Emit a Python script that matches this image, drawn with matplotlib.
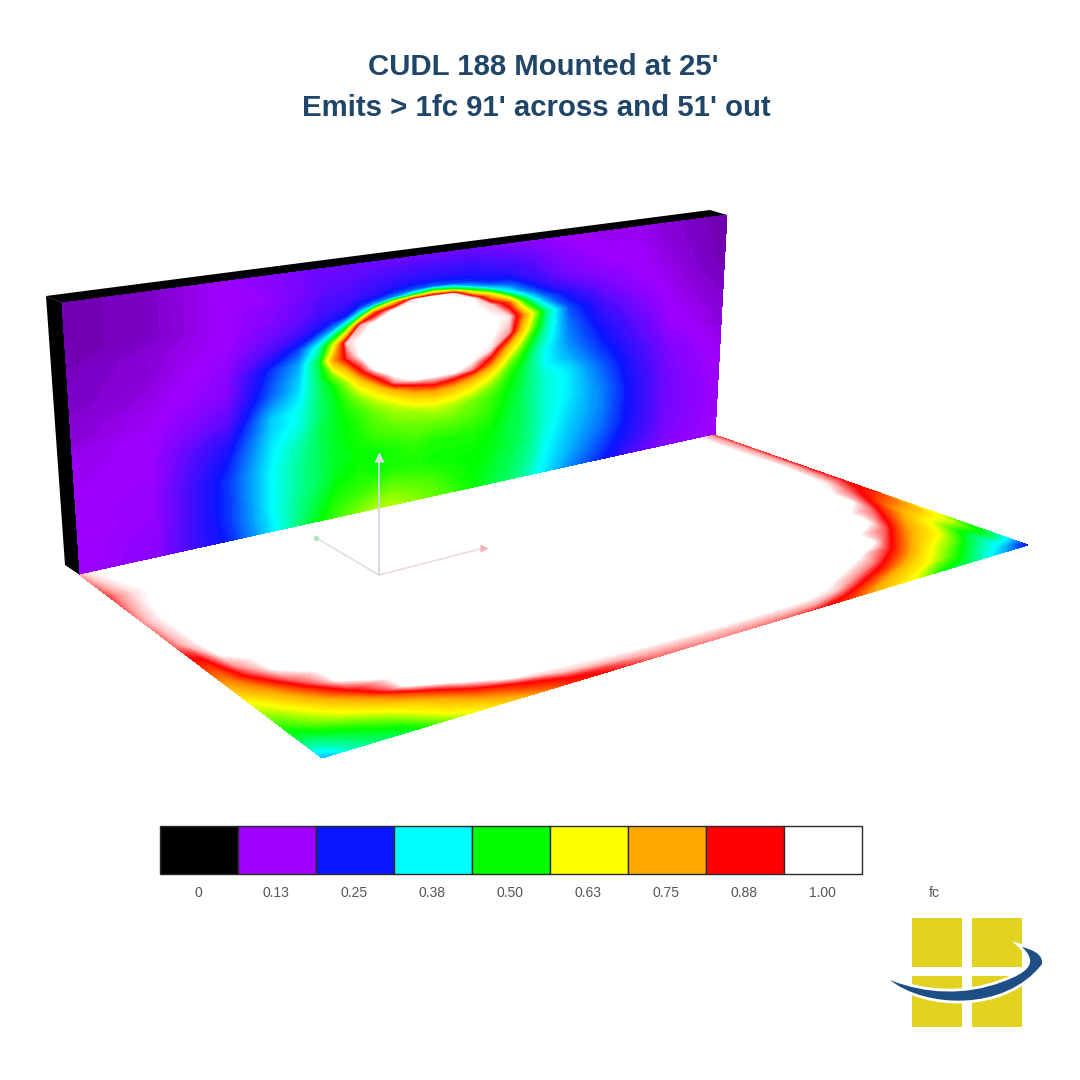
import numpy as np
import matplotlib
matplotlib.use('Agg')
import matplotlib.pyplot as plt
from matplotlib.colors import LinearSegmentedColormap, to_rgb
from matplotlib.patches import Polygon, Rectangle, PathPatch
from matplotlib.path import Path

# illuminance scale (fc) and the colours of the legend
scale_values = [0, 0.13, 0.25, 0.38, 0.50, 0.63, 0.75, 0.88, 1.00]
scale_labels = ['0', '0.13', '0.25', '0.38', '0.50', '0.63', '0.75', '0.88', '1.00']
scale_colors = ['#000000', '#a000ff', '#0a14ff', '#00ffff', '#00ff00',
                '#ffff00', '#ffaa00', '#ff0000', '#ffffff']

# wall readings, one list per u (left to right), going down w (top to bottom)
wall_w = [0, .1, .13, .15, .17, .2, .24, .3, .36, .42, .46, .49, .52, .55, .58, .62, .68, .76, .84, .92, 1]
wall_u = [0, .1, .2, .26, .3, .33, .35, .37, .39, .41, .44, .47, .5, .53, .56, .59, .62, .64, .66, .68, .72, .78, .84, .9, 1]
wall_fc = [
    [.09, .09, .09, .09, .09, .09, .095, .10, .10, .105, .11, .11, .115, .12, .12, .12, .125, .13, .13, .13, .13],
    [.10, .10, .10, .10, .10, .105, .11, .11, .115, .12, .125, .125, .13, .13, .13, .135, .135, .14, .14, .145, .15],
    [.13, .13, .13, .13, .13, .13, .13, .14, .145, .15, .16, .17, .18, .19, .21, .23, .25, .27, .27, .27, .26],
    [.15, .14, .15, .15, .15, .16, .17, .20, .26, .28, .29, .31, .33, .35, .35, .36, .37, .38, .38, .38, .37],
    [.16, .16, .17, .17, .17, .18, .20, .27, .33, .35, .36, .37, .38, .39, .39, .40, .42, .43, .43, .44, .45],
    [.17, .18, .19, .19, .20, .21, .25, .40, .47, .46, .45, .45, .45, .45, .45, .46, .46, .46, .46, .48, .50],
    [.17, .19, .20, .20, .21, .23, .32, .60, .75, .56, .50, .49, .48, .48, .48, .48, .48, .48, .49, .51, .53],
    [.17, .19, .20, .21, .22, .26, .48, .97, .90, .68, .58, .55, .53, .52, .51, .50, .50, .49, .50, .52, .55],
    [.17, .20, .21, .24, .27, .42, .95, 1, 1, .86, .70, .63, .58, .55, .53, .52, .51, .50, .51, .53, .57],
    [.17, .21, .22, .26, .35, .82, 1, 1, 1, 1, .84, .70, .63, .59, .56, .54, .53, .50, .50, .54, .59],
    [.17, .22, .26, .32, .70, 1, 1, 1, 1, 1, 1, .93, .74, .65, .60, .57, .54, .51, .51, .55, .59],
    [.17, .23, .28, .45, .98, 1, 1, 1, 1, 1, 1, 1, .84, .72, .65, .58, .55, .52, .51, .54, .57],
    [.17, .23, .30, .60, 1, 1, 1, 1, 1, 1, 1, 1, .90, .76, .68, .60, .55, .51, .50, .53, .55],
    [.17, .23, .28, .48, .98, 1, 1, 1, 1, 1, 1, 1, .86, .74, .66, .59, .55, .51, .50, .51, .53],
    [.17, .23, .26, .33, .55, 1, 1, 1, 1, 1, .99, .94, .78, .68, .62, .56, .54, .51, .50, .50, .50],
    [.16, .22, .24, .27, .36, .70, .97, 1, 1, .98, .86, .76, .66, .60, .56, .53, .52, .50, .49, .48, .47],
    [.15, .21, .23, .26, .30, .40, .80, .98, .95, .72, .62, .56, .53, .51, .50, .49, .48, .47, .47, .46, .45],
    [.15, .20, .21, .23, .26, .32, .52, .80, .72, .58, .52, .50, .48, .47, .47, .46, .46, .46, .45, .44, .43],
    [.145, .19, .20, .21, .23, .27, .38, .60, .54, .47, .44, .43, .43, .43, .43, .43, .43, .43, .43, .42, .40],
    [.14, .17, .18, .19, .20, .23, .30, .44, .42, .40, .38, .38, .38, .39, .40, .40, .40, .40, .39, .38, .37],
    [.13, .15, .155, .16, .17, .19, .23, .28, .30, .31, .32, .33, .34, .36, .37, .37, .37, .36, .35, .34, .32],
    [.12, .13, .135, .14, .145, .155, .17, .20, .22, .24, .25, .26, .27, .28, .29, .30, .31, .31, .30, .28, .26],
    [.12, .13, .13, .13, .13, .135, .14, .155, .17, .185, .19, .20, .21, .21, .22, .22, .23, .23, .23, .22, .19],
    [.11, .11, .115, .115, .115, .12, .12, .125, .13, .135, .14, .145, .15, .155, .16, .16, .165, .165, .165, .16, .15],
    [.085, .09, .09, .09, .09, .09, .095, .10, .105, .11, .11, .115, .115, .12, .12, .125, .125, .13, .13, .13, .13],
]

# floor readings, one list per s (along the wall), going out along t
floor_t = [0, .15, .3, .45, .52, .58, .64, .7, .75, .8, .84, .88, .92, .95, .98, 1]
floor_s = [0, .01, .03, .06, .1, .15, .2, .25, .3, .4, .5, .6, .65, .7, .75, .8, .85, .9, .94, .97, .99, 1]
floor_fc = [
    [.95, .90, .94, .92, .87, .82, .76, .69, .62, .58, .54, .50, .46, .42, .37, .34],
    [.98, .94, .97, .96, .88, .83, .78, .73, .64, .59, .55, .51, .46, .42, .38, .35],
    [1, .98, 1, 1, 1, .95, .885, .78, .71, .635, .59, .55, .49, .45, .42, .40],
    [1, 1, 1, 1, 1, 1, 1, .92, .82, .73, .66, .60, .53, .49, .46, .44],
    [1, 1, 1, 1, 1, 1, 1, 1, 1, .88, .765, .68, .60, .55, .50, .48],
    [1, 1, 1, 1, 1, 1, 1, 1, 1, 1, 1, .82, .71, .665, .62, .58],
    [1, 1, 1, 1, 1, 1, 1, 1, 1, 1, 1, 1, .86, .78, .71, .67],
    [1, 1, 1, 1, 1, 1, 1, 1, 1, 1, 1, 1, 1, .87, .81, .76],
    [1, 1, 1, 1, 1, 1, 1, 1, 1, 1, 1, 1, 1, .97, .87, .85],
    [1, 1, 1, 1, 1, 1, 1, 1, 1, 1, 1, 1, 1, .99, .95, .92],
    [1, 1, 1, 1, 1, 1, 1, 1, 1, 1, 1, 1, 1, 1, .96, .94],
    [1, 1, 1, 1, 1, 1, 1, 1, 1, 1, 1, 1, 1, 1, .96, .92],
    [1, 1, 1, 1, 1, 1, 1, 1, 1, 1, 1, 1, 1, 1, .95, .88],
    [1, 1, 1, 1, 1, 1, 1, 1, 1, 1, 1, 1, 1, .97, .87, .82],
    [1, 1, 1, 1, 1, 1, 1, 1, 1, 1, 1, 1, .94, .85, .75, .70],
    [1, 1, 1, 1, 1, 1, 1, 1, 1, 1, 1, .94, .83, .72, .66, .62],
    [1, 1, 1, 1, 1, 1, 1, 1, 1, 1, .90, .80, .69, .63, .54, .49],
    [1, 1, 1, 1, 1, 1, 1, 1, .92, .80, .72, .64, .57, .52, .47, .44],
    [1, 1, 1, 1, 1, 1, .93, .83, .74, .68, .63, .56, .48, .43, .39, .36],
    [.99, .99, 1, .985, .93, .87, .79, .72, .65, .58, .52, .465, .42, .385, .34, .31],
    [.95, .95, .95, .92, .87, .83, .78, .72, .64, .60, .54, .49, .45, .38, .29, .26],
    [.90, .89, .88, .88, .88, .82, .74, .65, .62, .55, .51, .47, .41, .36, .28, .24],
]

# drawing corners in image pixels
wall_quad = [(62, 303), (727, 215), (715, 435), (80, 575)]
floor_quad = [(80, 575), (715, 435), (1028, 545), (322, 758)]


def quad_map(quad, a, b):
    # projective map of the unit square onto a four sided shape
    (x0, y0), (x1, y1), (x2, y2), (x3, y3) = quad
    dx1, dx2, sx = x1 - x2, x3 - x2, x0 - x1 + x2 - x3
    dy1, dy2, sy = y1 - y2, y3 - y2, y0 - y1 + y2 - y3
    den = dx1 * dy2 - dx2 * dy1
    g = (sx * dy2 - dx2 * sy) / den
    h = (dx1 * sy - sx * dy1) / den
    A, B = np.meshgrid(a, b)
    q = 1 + g * A + h * B
    X = ((x1 - x0 + g * x1) * A + (x3 - x0 + h * x3) * B + x0) / q
    Y = ((y1 - y0 + g * y1) * A + (y3 - y0 + h * y3) * B + y0) / q
    return X, Y


cmap = LinearSegmentedColormap.from_list(
    'fc', [(v, to_rgb(c)) for v, c in zip(scale_values, scale_colors)], N=512)
levels = np.append(np.linspace(0, 0.99, 199), 1.001)

fig = plt.figure(figsize=(10.8, 10.8), dpi=100)
ax = fig.add_axes([0, 0, 1, 1])
ax.set_xlim(0, 1080)
ax.set_ylim(1080, 0)
ax.axis('off')

# black sides of the wall
ax.add_patch(Polygon([(46, 296), (62, 303), (80, 575), (65, 565)], color='black', lw=0))
ax.add_patch(Polygon([(46, 296), (710, 210), (727, 215), (62, 303)], color='black', lw=0))

X, Y = quad_map(wall_quad, np.array(wall_u), np.array(wall_w))
ax.contourf(X, Y, np.array(wall_fc).T, levels=levels, cmap=cmap, vmin=0, vmax=0.995)

X, Y = quad_map(floor_quad, np.array(floor_s), np.array(floor_t))
ax.contourf(X, Y, np.array(floor_fc).T, levels=levels, cmap=cmap, vmin=0, vmax=0.995)

# little axes marker on the floor
ax.plot([379, 379], [575, 456], color='#d3d4e2', lw=1.3, solid_capstyle='round')
ax.plot([379, 480], [575, 549], color='#eed6d8', lw=1.1)
ax.plot([379, 318], [575, 539], color='#d9e0dc', lw=1.1)
ax.plot([379], [457], marker='^', ms=7, color='#dcdcf0', mec='none')
ax.plot([484], [548], marker='>', ms=6, color='#f5b0b0', mec='none')
ax.plot([316], [538], marker='o', ms=4, color='#b8e2b8', mec='none')

# legend strip
cell_w = 78
cell_left = 160
lefts = [cell_left + i * cell_w for i in range(len(scale_values))]
ax.bar(lefts, [48] * len(lefts), width=cell_w, bottom=826, align='edge',
       color=[cmap(v) for v in scale_values], edgecolor='#2a2a2a', linewidth=1)
for left, lab in zip(lefts, scale_labels):
    ax.text(left + 38, 893, lab, ha='center', va='center', fontsize=10,
            color='#555555', family='Liberation Sans')
ax.text(934, 893, 'fc', ha='center', va='center', fontsize=10, color='#555555',
        family='Liberation Sans')

# titles
ax.text(543, 67, "CUDL 188 Mounted at 25'", ha='center', va='center', fontsize=21.2,
        fontweight='bold', color='#1f4568', family='Liberation Sans')
ax.text(536, 108, "Emits > 1fc 91' across and 51' out", ha='center', va='center', fontsize=21.2,
        fontweight='bold', color='#1f4568', family='Liberation Sans')

# logo
yellow = '#e3d321'
for x0, y0, x1, y1 in [(912, 918, 962, 967), (972, 918, 1022, 967),
                       (912, 976, 962, 1027), (972, 976, 1022, 1027)]:
    ax.add_patch(Rectangle((x0, y0), x1 - x0, y1 - y0, color=yellow, lw=0))
swoosh = Path([(890, 980), (925, 1008), (1005, 1012), (1042, 964),
               (1043, 954), (1033, 950), (1022, 947),
               (1038, 962), (1030, 972), (1002, 982),
               (965, 996), (925, 994), (890, 980), (890, 980)],
              [Path.MOVETO] + [Path.CURVE4] * 12 + [Path.CLOSEPOLY])
ax.add_patch(PathPatch(swoosh, fc='#1d4f86', ec='white', lw=4, zorder=3))
ax.add_patch(PathPatch(swoosh, fc='#1d4f86', ec='none', zorder=4))

fig.savefig('out.png', dpi=100)
